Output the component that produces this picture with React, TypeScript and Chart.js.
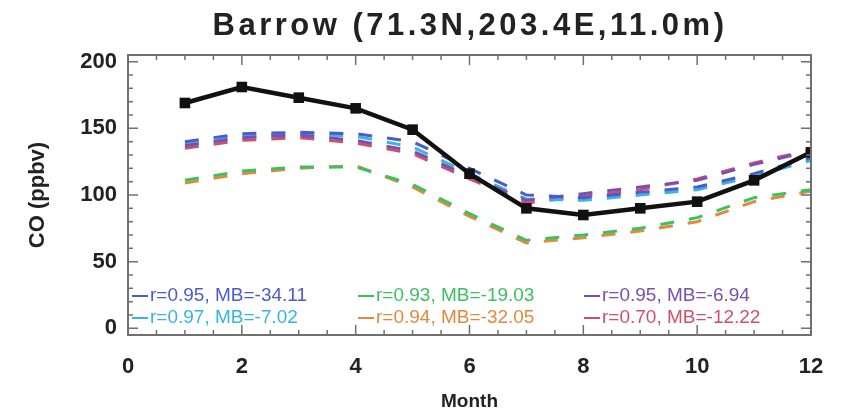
import React, { useEffect, useRef } from "react";
import { Chart, registerables } from "chart.js";

Chart.register(...registerables);

const titleText = "Barrow (71.3N,203.4E,11.0m)";
const yTitleText = "CO (ppbv)";
const months = [1, 2, 3, 4, 5, 6, 7, 8, 9, 10, 11, 12];
const observed = [169, 181, 173, 165, 149, 116, 90, 85, 90, 95, 111, 132];
const modelBlue = [140, 146, 147, 146, 140, 120, 100, 98, 102, 106, 116, 128];
const modelGreen = [111, 118, 121, 121, 108, 86, 66, 70, 75, 83, 98, 104];
const modelPurple = [137, 143, 145, 141, 133, 114, 96, 101, 106, 111, 123, 133];
const modelCyan = [138, 144, 146, 144, 136, 116, 97, 96, 100, 104, 114, 126];
const modelOrange = [109, 116, 120, 122, 106, 84, 64, 68, 73, 80, 95, 103];
const modelRed = [135, 141, 143, 139, 131, 112, 94, 99, 104, 112, 124, 134];
const legendLabels = [
  "r=0.95, MB=-34.11",
  "r=0.93, MB=-19.03",
  "r=0.95, MB=-6.94",
  "r=0.97, MB=-7.02",
  "r=0.94, MB=-32.05",
  "r=0.70, MB=-12.22",
];
const modelColors = ["#4a5bd0", "#3cc060", "#7a4fb0", "#35b5e0", "#e08a3c", "#d0506a"];
const yTicks = [0, 50, 100, 150, 200];
const xTicks = [0, 2, 4, 6, 8, 10, 12];

const FONT = "'Liberation Sans', Arial, sans-serif";

const framePlugin = {
  id: "frame",
  afterDraw(chart: any) {
    const { ctx, chartArea } = chart;
    const { left, right, top, bottom } = chartArea;
    const xs = chart.scales.x;
    const ys = chart.scales.y;
    ctx.save();
    // legend
    ctx.font = `19px ${FONT}`;
    ctx.textBaseline = "middle";
    const models = chart.data.datasets.slice(1);
    models.forEach((ds: any, i: number) => {
      const row = Math.floor(i / 3);
      const col = i % 3;
      const x0 = left + 4 + col * 226;
      const y0 = bottom - 39 + row * 22;
      ctx.strokeStyle = ds.borderColor;
      ctx.lineWidth = 2;
      ctx.setLineDash([]);
      ctx.beginPath();
      ctx.moveTo(x0, y0);
      ctx.lineTo(x0 + 16, y0);
      ctx.stroke();
      ctx.fillStyle = ds.borderColor;
      ctx.textAlign = "left";
      ctx.fillText(ds.label, x0 + 18, y0);
    });
    // box
    ctx.strokeStyle = "#707070";
    ctx.lineWidth = 2;
    ctx.setLineDash([]);
    ctx.strokeRect(left, top, right - left, bottom - top);
    // inner ticks
    ctx.lineWidth = 1.5;
    for (let v = 0; v <= 200; v += 10) {
      const y = ys.getPixelForValue(v);
      const len = v % 50 === 0 ? 10 : 5;
      ctx.beginPath();
      ctx.moveTo(left, y);
      ctx.lineTo(left + len, y);
      ctx.moveTo(right, y);
      ctx.lineTo(right - len, y);
      ctx.stroke();
    }
    for (let v = 0; v <= 12; v += 0.5) {
      const x = xs.getPixelForValue(v);
      const len = v % 2 === 0 ? 10 : 5;
      ctx.beginPath();
      ctx.moveTo(x, bottom);
      ctx.lineTo(x, bottom - len);
      ctx.moveTo(x, top);
      ctx.lineTo(x, top + len);
      ctx.stroke();
    }
    // title
    ctx.fillStyle = "#222";
    ctx.font = `bold 31px ${FONT}`;
    ctx.textAlign = "center";
    ctx.textBaseline = "middle";
    (ctx as any).letterSpacing = "3.5px";
    ctx.fillText(titleText, 470, 26);
    (ctx as any).letterSpacing = "0px";
    // y title
    ctx.save();
    ctx.translate(38, 195);
    ctx.rotate(-Math.PI / 2);
    ctx.font = `bold 22px ${FONT}`;
    ctx.fillText(yTitleText, 0, 0);
    ctx.restore();
    ctx.restore();
  },
};

export default function App() {
  const ref = useRef<HTMLCanvasElement>(null);
  useEffect(() => {
    if (!ref.current) return;
    const modelSeries = [modelBlue, modelGreen, modelPurple, modelCyan, modelOrange, modelRed];
    const datasets: any[] = [
      {
        label: "Observed",
        data: months.map((m, i) => ({ x: m, y: observed[i] })),
        borderColor: "#111",
        backgroundColor: "#111",
        borderWidth: 4.5,
        pointStyle: "rect",
        pointRadius: 7.5,
        pointBorderWidth: 0,
        order: 0,
      },
      ...modelSeries.map((s, k) => ({
        label: legendLabels[k],
        data: months.map((m, i) => ({ x: m, y: s[i] })),
        borderColor: modelColors[k],
        backgroundColor: modelColors[k],
        borderWidth: 3,
        borderDash: [14, 15],
        pointRadius: 0,
        order: 1,
      })),
    ];
    const chart = new Chart(ref.current, {
      type: "line",
      data: { datasets },
      options: {
        animation: false,
        responsive: false,
        layout: { padding: { left: 0, right: 31, top: 55, bottom: 0 } },
        plugins: { legend: { display: false }, title: { display: false }, tooltip: { enabled: false } },
        scales: {
          x: {
            type: "linear",
            min: 0,
            max: 12,
            grid: { display: false },
            border: { display: false },
            afterBuildTicks: (s: any) => {
              s.ticks = xTicks.map((v) => ({ value: v }));
            },
            afterFit: (s: any) => {
              s.height = 81;
            },
            ticks: { color: "#222", font: { family: FONT, size: 22, weight: "bold" }, padding: 11 },
            title: {
              display: true,
              text: "Month",
              color: "#222",
              font: { family: FONT, size: 19, weight: "bold" },
              padding: { top: 0, bottom: 3 },
            },
          },
          y: {
            min: -5,
            max: 205,
            grid: { display: false },
            border: { display: false },
            afterBuildTicks: (s: any) => {
              s.ticks = yTicks.map((v) => ({ value: v }));
            },
            afterFit: (s: any) => {
              s.width = 128;
            },
            ticks: { color: "#222", font: { family: FONT, size: 22, weight: "bold" }, padding: 3 },
          },
        },
      },
      plugins: [framePlugin],
    });
    return () => chart.destroy();
  }, []);
  return (
    <div style={{ position: "fixed", left: 0, top: 0, width: 842, height: 416, background: "#fff" }}>
      <canvas ref={ref} width={842} height={416} />
    </div>
  );
}
